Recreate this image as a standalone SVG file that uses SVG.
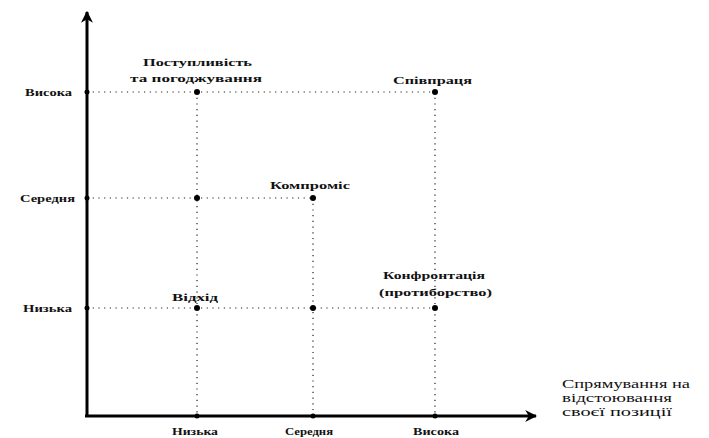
<svg xmlns="http://www.w3.org/2000/svg" width="709" height="438" viewBox="0 0 709 438">
<style>
.lbl{font-family:"Liberation Serif","DejaVu Serif",serif;font-size:11px;font-weight:bold;fill:#111}
.ax{font-family:"Liberation Serif","DejaVu Serif",serif;font-size:10px;font-weight:bold;fill:#111}
.ttl{font-family:"Liberation Serif","DejaVu Serif",serif;font-size:11.5px;fill:#111}
.dot{stroke:#222;stroke-width:1.2;stroke-dasharray:1.2 4.5;fill:none}
.axis{stroke:#000;stroke-width:3;fill:none}
.pt{fill:#000}
</style>
<defs>
<marker id="ah" viewBox="0 0 10 10" refX="9" refY="5" markerWidth="4" markerHeight="4" orient="auto" markerUnits="strokeWidth">
<path d="M0,0 L10,5 L0,10 L3,5 z" fill="#000"/>
</marker>
</defs>
<rect width="709" height="438" fill="#fff"/>
<g id="connectors">
<line class="dot" x1="87" y1="92" x2="435" y2="92"/>
<line class="dot" x1="87" y1="198" x2="313" y2="198"/>
<line class="dot" x1="87" y1="308" x2="435" y2="308"/>
<line class="dot" x1="197" y1="92" x2="197" y2="416"/>
<line class="dot" x1="313" y1="198" x2="313" y2="416"/>
<line class="dot" x1="435" y1="92" x2="435" y2="416"/>
</g>
<g id="axes">
<line class="axis" x1="87" y1="417" x2="87" y2="12" marker-end="url(#ah)"/>
<line class="axis" x1="85" y1="416" x2="536" y2="416" marker-end="url(#ah)"/>
<circle class="pt" cx="87" cy="92" r="2.5"/>
<circle class="pt" cx="87" cy="198" r="2.5"/>
<circle class="pt" cx="87" cy="308" r="2.5"/>
<circle class="pt" cx="197" cy="416" r="2.5"/>
<circle class="pt" cx="313" cy="416" r="2.5"/>
<circle class="pt" cx="435" cy="416" r="2.5"/>
</g>
<g id="y-labels">
<text class="ax" x="25" y="96" textLength="47" lengthAdjust="spacingAndGlyphs">Висока</text>
<text class="ax" x="20" y="202" textLength="55" lengthAdjust="spacingAndGlyphs">Середня</text>
<text class="ax" x="23" y="312" textLength="49" lengthAdjust="spacingAndGlyphs">Низька</text>
</g>
<g id="x-labels">
<text class="ax" x="172" y="435" textLength="46" lengthAdjust="spacingAndGlyphs">Низька</text>
<text class="ax" x="285" y="435" textLength="48" lengthAdjust="spacingAndGlyphs">Середня</text>
<text class="ax" x="413" y="435" textLength="46" lengthAdjust="spacingAndGlyphs">Висока</text>
</g>
<g id="node-postupl">
<circle class="pt" cx="197" cy="92" r="3"/>
<text class="lbl" x="143" y="66" textLength="109" lengthAdjust="spacingAndGlyphs">Поступливість</text>
<text class="lbl" x="130" y="82" textLength="132" lengthAdjust="spacingAndGlyphs">та погоджування</text>
</g>
<g id="node-spivpratsia">
<circle class="pt" cx="435" cy="92" r="3"/>
<text class="lbl" x="393" y="84" textLength="79" lengthAdjust="spacingAndGlyphs">Співпраця</text>
</g>
<g id="node-seredn">
<circle class="pt" cx="197" cy="198" r="3"/>
</g>
<g id="node-kompromis">
<circle class="pt" cx="313" cy="198" r="3"/>
<text class="lbl" x="270" y="189" textLength="80" lengthAdjust="spacingAndGlyphs">Компроміс</text>
</g>
<g id="node-vidkhid">
<circle class="pt" cx="197" cy="308" r="3"/>
<text class="lbl" x="172" y="301" textLength="46" lengthAdjust="spacingAndGlyphs">Відхід</text>
</g>
<g id="node-low-mid">
<circle class="pt" cx="313" cy="308" r="3"/>
</g>
<g id="node-konfrontatsia">
<circle class="pt" cx="435" cy="308" r="3"/>
<text class="lbl" x="383" y="279" textLength="102" lengthAdjust="spacingAndGlyphs">Конфронтація</text>
<text class="lbl" x="379" y="296" textLength="113" lengthAdjust="spacingAndGlyphs">(протиборство)</text>
</g>
<g id="axis-title">
<text class="ttl" x="562" y="388" textLength="128" lengthAdjust="spacingAndGlyphs">Спрямування на</text>
<text class="ttl" x="562" y="402" textLength="110" lengthAdjust="spacingAndGlyphs">відстоювання</text>
<text class="ttl" x="562" y="416" textLength="110" lengthAdjust="spacingAndGlyphs">своєї позиції</text>
</g>
</svg>
